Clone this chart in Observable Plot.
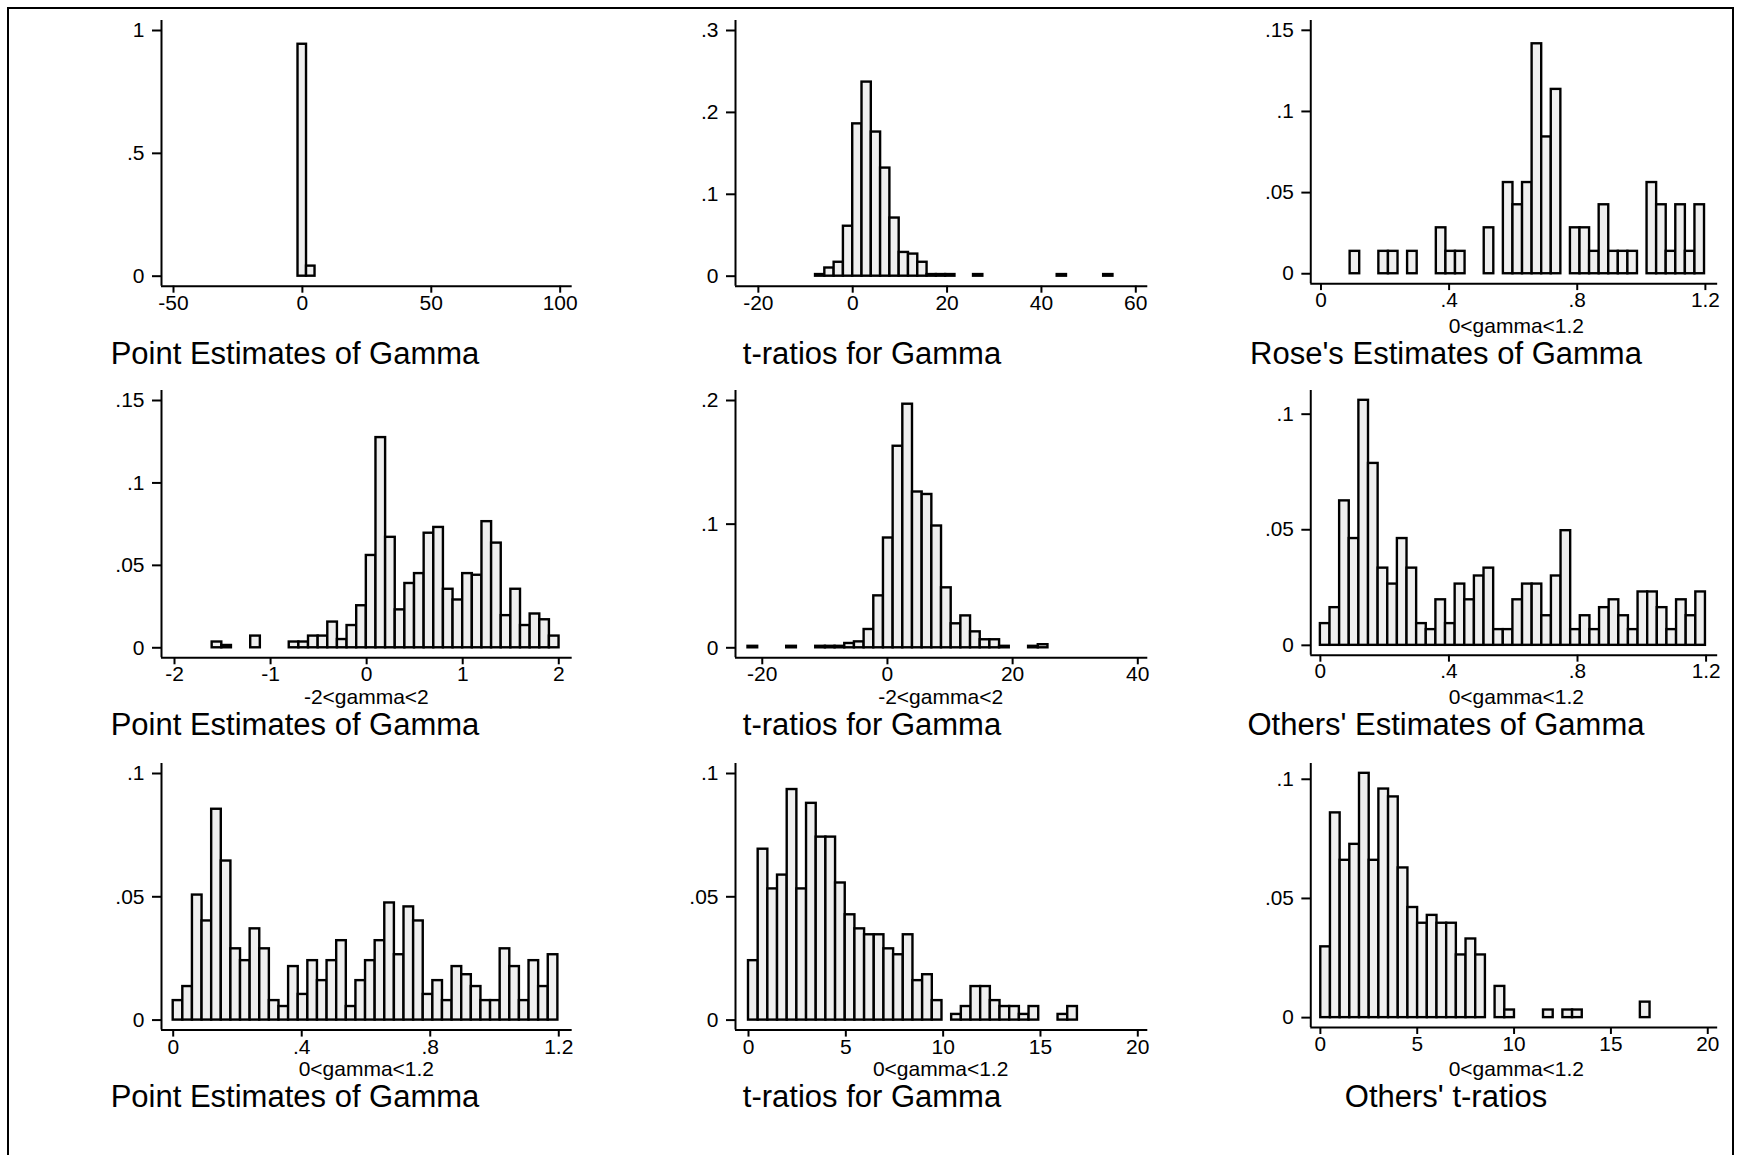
<!DOCTYPE html>
<html>
<head>
<meta charset="utf-8">
<script src="https://cdn.jsdelivr.net/npm/d3@7"></script>
<script src="https://cdn.jsdelivr.net/npm/@observablehq/plot@0.6"></script>
<style>
  html, body { margin: 0; padding: 0; background: #fff; overflow: hidden; }
  #page { position: relative; width: 1737px; height: 1155px; background: #fff; overflow: hidden; }
  #border { position: absolute; left: 7px; top: 7px; width: 1727px; height: 1200px; box-sizing: border-box; border: 2px solid #000; }
  .panel { position: absolute; }
  #overlay { position: absolute; left: 0; top: 0; }
</style>
</head>
<body>
<div id="page"><div id="border"></div></div>
<script>
// ---------------- DATA (fractions) ----------------
// Row 1
const pointAllStart = -1.7, pointAllWidth = 3.3;
const pointAllHeights = [0.944, 0.041];

const tAllStart = -7.88, tAllWidth = 1.97;
const tAllHeights = [0.002, 0.010, 0.017, 0.061, 0.186, 0.237, 0.176, 0.132, 0.071, 0.029,
  0.027, 0.017, 0.002, 0.002, 0.002, 0, 0, 0.002, 0, 0, 0, 0, 0, 0, 0, 0, 0.002, 0, 0, 0, 0, 0.002];

const roseStart = 0.091, roseWidth = 0.0299;
const roseHeights = [0.0138, 0, 0, 0.0138, 0.0138, 0, 0.0138, 0, 0, 0.0283, 0.0138, 0.0138, 0, 0,
  0.0283, 0, 0.0562, 0.0425, 0.0562, 0.1417, 0.0843, 0.1136, 0, 0.0283, 0.0283, 0.0138, 0.0425,
  0.0138, 0.0138, 0.0138, 0, 0.0562, 0.0425, 0.0138, 0.0425, 0.0138, 0.0425];

// Row 2
const pointM2Start = -1.608, pointM2Width = 0.1003;
const pointM2Heights = [0.0035, 0.0014, 0, 0, 0.0071, 0, 0, 0, 0.0035, 0.0035, 0.0071, 0.0071,
  0.0156, 0.0050, 0.0135, 0.0255, 0.0560, 0.1275, 0.0670, 0.0230, 0.0390, 0.0450, 0.0695, 0.0730,
  0.0355, 0.0290, 0.0450, 0.0440, 0.0765, 0.0635, 0.0195, 0.0355, 0.0135, 0.0205, 0.0170, 0.0071];

const tM2Start = -22.28, tM2Width = 1.546;
const tM2Heights = [0.0012, 0, 0, 0, 0.0012, 0, 0, 0.0012, 0.0012, 0.0012, 0.0035, 0.0048, 0.0148,
  0.042, 0.0888, 0.163, 0.197, 0.126, 0.124, 0.0985, 0.0485, 0.0194, 0.0258, 0.0129, 0.0065, 0.0065,
  0.0012, 0, 0, 0.0012, 0.0025];

const othersStart = 0.0, othersWidth = 0.02995;
const othersHeights = [0.0094, 0.0163, 0.0625, 0.0462, 0.106, 0.0787, 0.0334, 0.0265, 0.0462, 0.0334,
  0.0094, 0.0068, 0.0197, 0.0094, 0.0265, 0.0197, 0.030, 0.0334, 0.0068, 0.0068, 0.0197, 0.0265,
  0.0265, 0.0128, 0.030, 0.0496, 0.0068, 0.0128, 0.0068, 0.0163, 0.0197, 0.0128, 0.0068, 0.0231,
  0.0231, 0.0163, 0.0068, 0.0197, 0.0128, 0.0231];

// Row 3
const point12Start = 0.0, point12Width = 0.02993;
const point12Heights = [0.0079, 0.0136, 0.0507, 0.0402, 0.0855, 0.0645, 0.0289, 0.0241, 0.037, 0.0289,
  0.0079, 0.0055, 0.0217, 0.0104, 0.0241, 0.016, 0.0241, 0.0322, 0.0055, 0.016, 0.0241, 0.0322,
  0.0475, 0.0265, 0.0459, 0.0402, 0.0104, 0.016, 0.0079, 0.0217, 0.0184, 0.0136, 0.0079, 0.0079,
  0.0289, 0.0217, 0.0079, 0.0241, 0.0136, 0.0265];

const t12Start = 0.0, t12Width = 0.497;
const t12Heights = [0.0241, 0.0693, 0.0532, 0.0588, 0.0935, 0.0532, 0.0879, 0.0742, 0.0742, 0.0556,
  0.0427, 0.037, 0.0346, 0.0346, 0.0289, 0.0265, 0.0346, 0.016, 0.0184, 0.0079, 0, 0.0023, 0.0055,
  0.0136, 0.0136, 0.0079, 0.0055, 0.0055, 0.0023, 0.0055, 0, 0, 0.0023, 0.0055];

const othersTStart = 0.02, othersTWidth = 0.5;
const othersTHeights = [0.0297, 0.0859, 0.066, 0.0727, 0.1025, 0.066, 0.0959, 0.0926, 0.0628, 0.0462,
  0.0396, 0.0429, 0.0396, 0.0396, 0.0263, 0.033, 0.0263, 0, 0.0131, 0.0032, 0, 0, 0, 0.0032, 0,
  0.0032, 0.0032, 0, 0, 0, 0, 0, 0, 0.0065];

// Tick values
const xTicksPoint = [-50, 0, 50, 100];
const xTicksTAll = [-20, 0, 20, 40, 60];
const xTicks012 = [0, 0.4, 0.8, 1.2];
const xTicksM2 = [-2, -1, 0, 1, 2];
const xTicksTM2 = [-20, 0, 20, 40];
const xTicksT20 = [0, 5, 10, 15, 20];
const yTicks1 = [0, 0.5, 1];
const yTicks03 = [0, 0.1, 0.2, 0.3];
const yTicks015 = [0, 0.05, 0.1, 0.15];
const yTicks02 = [0, 0.1, 0.2];
const yTicks01 = [0, 0.05, 0.1];

// Labels
const titles = [
  ["Point Estimates of Gamma", "t-ratios for Gamma", "Rose's Estimates of Gamma"],
  ["Point Estimates of Gamma", "t-ratios for Gamma", "Others' Estimates of Gamma"],
  ["Point Estimates of Gamma", "t-ratios for Gamma", "Others' t-ratios"]
];
const xLabels = [
  [null, null, "0<gamma<1.2"],
  ["-2<gamma<2", "-2<gamma<2", "0<gamma<1.2"],
  ["0<gamma<1.2", "0<gamma<1.2", "0<gamma<1.2"]
];

// Panel definitions (data side)
const panels = [
  {row: 0, col: 0, start: pointAllStart, width: pointAllWidth, heights: pointAllHeights, xRange: [-50, 100], yMax: 1, xTicks: xTicksPoint, yTicks: yTicks1},
  {row: 0, col: 1, start: tAllStart, width: tAllWidth, heights: tAllHeights, xRange: [-22.3, 60], yMax: 0.3, xTicks: xTicksTAll, yTicks: yTicks03},
  {row: 0, col: 2, start: roseStart, width: roseWidth, heights: roseHeights, xRange: [0, 1.2], yMax: 0.15, xTicks: xTicks012, yTicks: yTicks015},
  {row: 1, col: 0, start: pointM2Start, width: pointM2Width, heights: pointM2Heights, xRange: [-2, 2], yMax: 0.15, xTicks: xTicksM2, yTicks: yTicks015},
  {row: 1, col: 1, start: tM2Start, width: tM2Width, heights: tM2Heights, xRange: [-22.28, 40], yMax: 0.2, xTicks: xTicksTM2, yTicks: yTicks02},
  {row: 1, col: 2, start: othersStart, width: othersWidth, heights: othersHeights, xRange: [0, 1.2], yMax: 0.106, xTicks: xTicks012, yTicks: yTicks01},
  {row: 2, col: 0, start: point12Start, width: point12Width, heights: point12Heights, xRange: [0, 1.2], yMax: 0.1, xTicks: xTicks012, yTicks: yTicks01},
  {row: 2, col: 1, start: t12Start, width: t12Width, heights: t12Heights, xRange: [0, 20], yMax: 0.1, xTicks: xTicksT20, yTicks: yTicks01},
  {row: 2, col: 2, start: othersTStart, width: othersTWidth, heights: othersTHeights, xRange: [0, 20], yMax: 0.1025, xTicks: xTicksT20, yTicks: yTicks01}
];

// ---------------- LAYOUT ----------------
const cols = [{left: 161, right: 571.7}, {left: 734.5, right: 1146.8}, {left: 1311, right: 1721.7}];
const rows = [{top: 20, bottom: 285.7}, {top: 390, bottom: 657.3}, {top: 762.7, bottom: 1029.3}];
const padsX = [[12, 12], [12, 12], [10.3, 12.4], [13, 13.4], [12.5, 10], [9.7, 11.7], [11.7, 13.4], [13, 10], [9.7, 10]];
const titleCenters = [295, 872, 1446];
const padY = 10;
const ML = 80, MR = 20, MT = 10, MB = 40;
const FONT = "'Liberation Sans', Arial, Helvetica, sans-serif";

const fmt = d => {
  const s = (Math.round(d * 10000) / 10000).toString();
  return s.replace(/^(-?)0\./, "$1.");
};

const page = document.getElementById("page");

panels.forEach((p, i) => {
  const c = cols[p.col], r = rows[p.row];
  const [pL, pR] = padsX[i];
  const W = c.right - c.left, H = r.bottom - r.top;
  const [a, b] = p.xRange;
  const kx = (W - pL - pR) / (b - a);
  const xDomain = [a - pL / kx, b + pR / kx];
  const ky = (H - 2 * padY) / p.yMax;
  const yDomain = [-padY / ky, p.yMax + padY / ky];
  const bins = p.heights
    .map((h, k) => ({x1: p.start + k * p.width, x2: p.start + (k + 1) * p.width, y1: 0, y2: h}))
    .filter(d => d.y2 > 0);

  const chart = Plot.plot({
    width: W + ML + MR,
    height: H + MT + MB,
    marginLeft: ML, marginRight: MR, marginTop: MT, marginBottom: MB,
    x: {domain: xDomain},
    y: {domain: yDomain},
    style: {fontFamily: FONT, fontSize: "21px", color: "#000", background: "transparent", overflow: "visible"},
    marks: [
      Plot.rect(bins, {x1: "x1", x2: "x2", y1: "y1", y2: "y2", fill: "#efefef", stroke: "#000", strokeWidth: 2.4}),
      Plot.ruleX([xDomain[0]], {stroke: "#000", strokeWidth: 2}),
      Plot.ruleY([yDomain[0]], {stroke: "#000", strokeWidth: 2}),
      Plot.axisX({ticks: p.xTicks, tickFormat: fmt, tickSize: 7, tickPadding: 1.5, fontSize: 21, label: null, strokeWidth: 2, fill: "#000"}),
      Plot.axisY({ticks: p.yTicks, tickFormat: fmt, tickSize: 9, tickPadding: 8, fontSize: 21, label: null, strokeWidth: 2, fill: "#000"})
    ]
  });
  const div = document.createElement("div");
  div.className = "panel";
  div.style.left = (c.left - ML) + "px";
  div.style.top = (r.top - MT) + "px";
  div.appendChild(chart);
  page.appendChild(div);
});

// Text labels (x labels and titles)
const overlay = d3.select(page).append("svg")
  .attr("id", "overlay").attr("width", 1737).attr("height", 1155)
  .style("font-family", FONT);

for (let ri = 0; ri < 3; ri++) {
  for (let ci = 0; ci < 3; ci++) {
    const c = cols[ci], r = rows[ri];
    if (xLabels[ri][ci]) {
      overlay.append("text")
        .attr("x", (c.left + c.right) / 2).attr("y", r.bottom + 47)
        .attr("text-anchor", "middle").attr("font-size", 21).attr("fill", "#000")
        .text(xLabels[ri][ci]);
    }
    overlay.append("text")
      .attr("x", titleCenters[ci]).attr("y", r.bottom + 78)
      .attr("text-anchor", "middle").attr("font-size", 31).attr("fill", "#000")
      .text(titles[ri][ci]);
  }
}
</script>
</body>
</html>
